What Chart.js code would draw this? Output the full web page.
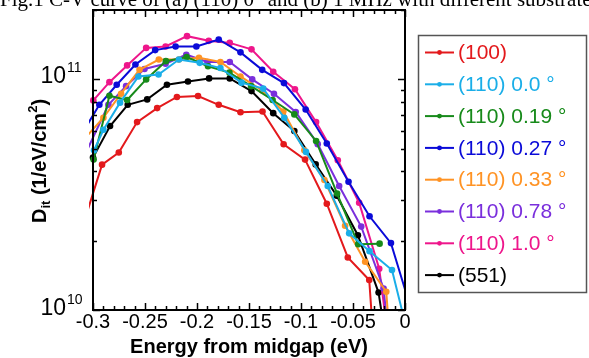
<!DOCTYPE html>
<html>
<head>
<meta charset="utf-8">
<script src="https://cdn.jsdelivr.net/npm/chart.js@4"></script>
<style>
  body { margin: 0; background: #fff; }
  canvas { display: block; }
</style>
</head>
<body>
<canvas id="ditChart" width="589" height="358"></canvas>
<script>
// axis ticks
const xTicks = [-0.3, -0.25, -0.2, -0.15, -0.1, -0.05, 0];
const xTickLabels = ['-0.3', '-0.25', '-0.2', '-0.15', '-0.1', '-0.05', '0'];
const yTicks = [1e10, 1e11];
const yTickExps = ['10', '11'];

// series: [energy (eV), Dit (1/eV/cm2)]
const s100 = [[-0.31, 2.30e10], [-0.2913, 4.27e10], [-0.2752, 4.82e10], [-0.2576, 6.53e10], [-0.2383, 7.51e10],
  [-0.2193, 8.39e10], [-0.199, 8.47e10], [-0.1791, 7.76e10], [-0.1582, 7.20e10], [-0.137, 7.26e10],
  [-0.1167, 5.23e10], [-0.0961, 4.49e10], [-0.0752, 2.89e10], [-0.055, 1.69e10], [-0.0344, 1.35e10], [-0.030, 7.0e9]];
const s110a0 = [[-0.299, 4.93e10], [-0.29, 6.05e10], [-0.274, 7.93e10], [-0.2563, 1.03e11], [-0.237, 1.05e11],
  [-0.2174, 1.22e11], [-0.1974, 1.18e11], [-0.1775, 1.12e11], [-0.1572, 9.68e10], [-0.1363, 9.12e10],
  [-0.1161, 6.82e10], [-0.0952, 4.85e10], [-0.0743, 3.45e10], [-0.0537, 2.15e10], [-0.0341, 1.80e10],
  [-0.0125, 1.49e10], [-0.002, 9.6e9]];
const s110a19 = [[-0.2994, 4.49e10], [-0.2842, 8.50e10], [-0.2672, 8.14e10], [-0.2489, 1.00e11], [-0.2299, 1.20e11],
  [-0.21, 1.25e11], [-0.1894, 1.14e11], [-0.1688, 1.07e11], [-0.1479, 9.35e10], [-0.1273, 8.14e10],
  [-0.1064, 7.05e10], [-0.0855, 5.41e10], [-0.0653, 3.20e10], [-0.045, 1.93e10], [-0.0244, 1.94e10]];
const s110a27 = [[-0.31, 5.88e10], [-0.2939, 7.76e10], [-0.2772, 9.48e10], [-0.2592, 1.16e11], [-0.2402, 1.34e11],
  [-0.2206, 1.39e11], [-0.2006, 1.39e11], [-0.1791, 1.49e11], [-0.1582, 1.31e11], [-0.1373, 1.10e11],
  [-0.1164, 9.64e10], [-0.0955, 7.40e10], [-0.0752, 5.27e10], [-0.0543, 3.60e10], [-0.0341, 2.55e10],
  [-0.0135, 1.95e10], [0.006, 1.0e10]];
const s110a33 = [[-0.31, 5.41e10], [-0.29, 6.82e10], [-0.273, 8.67e10], [-0.2553, 1.10e11], [-0.2367, 1.22e11],
  [-0.2174, 1.22e11], [-0.1981, 1.24e11], [-0.1775, 1.19e11], [-0.1582, 1.03e11], [-0.1373, 8.96e10],
  [-0.117, 7.26e10], [-0.0968, 4.93e10], [-0.0775, 3.66e10], [-0.0576, 2.32e10], [-0.0383, 1.62e10],
  [-0.018, 1.20e10], [-0.015, 7.8e9]];
const s110a78 = [[-0.31, 4.48e10], [-0.2852, 7.76e10], [-0.2682, 9.35e10], [-0.2505, 1.11e11], [-0.2302, 1.17e11],
  [-0.2103, 1.28e11], [-0.19, 1.19e11], [-0.1685, 1.19e11], [-0.1469, 1.00e11], [-0.126, 8.67e10],
  [-0.1051, 7.22e10], [-0.0839, 5.24e10], [-0.0633, 3.45e10], [-0.0421, 2.30e10], [-0.0206, 1.24e10],
  [-0.017, 8.6e9]];
const s110a100 = [[-0.2997, 8.11e10], [-0.2842, 9.73e10], [-0.2672, 1.15e11], [-0.2489, 1.37e11], [-0.2302, 1.39e11],
  [-0.2096, 1.54e11], [-0.1887, 1.47e11], [-0.1685, 1.44e11], [-0.1476, 1.35e11], [-0.1267, 1.08e11],
  [-0.1058, 9.06e10], [-0.0855, 6.53e10], [-0.0646, 4.46e10], [-0.0441, 2.92e10], [-0.0248, 1.51e10],
  [-0.019, 9.5e9]];
const s551 = [[-0.3, 4.58e10], [-0.2836, 6.28e10], [-0.2666, 7.76e10], [-0.2479, 8.19e10], [-0.2289, 9.48e10],
  [-0.2087, 9.80e10], [-0.1884, 1.01e11], [-0.1685, 1.01e11], [-0.1476, 8.90e10], [-0.1267, 7.14e10],
  [-0.1064, 5.97e10], [-0.0859, 4.28e10], [-0.0656, 3.13e10], [-0.0453, 2.11e10], [-0.0254, 1.19e10],
  [-0.02, 8.2e9]];

const seriesNames = ['(100)', '(110) 0.0 °', '(110) 0.19 °', '(110) 0.27 °', '(110) 0.33 °', '(110) 0.78 °', '(110) 1.0 °', '(551)'];
const seriesData = [s100, s110a0, s110a19, s110a27, s110a33, s110a78, s110a100, s551];
const seriesColors = ['#e3191c', '#1aaee8', '#178a1a', '#0a0ad8', '#ff9324', '#7a2fdc', '#ee168b', '#000000'];

const SANS = '"Liberation Sans", Arial, sans-serif';

const datasets = seriesData.map((d, i) => ({
  label: seriesNames[i],
  data: d.map(p => ({ x: p[0], y: p[1] })),
  borderColor: seriesColors[i],
  backgroundColor: seriesColors[i],
  borderWidth: 2,
  pointRadius: 3.3,
  pointBorderWidth: 0,
  tension: 0,
  clip: { left: 4, top: 0, right: 0, bottom: 0 }
}));

const decor = {
  id: 'decor',
  beforeDraw(chart) {
    const ctx = chart.ctx;
    ctx.save();
    ctx.fillStyle = '#fff';
    ctx.fillRect(0, 0, chart.width, chart.height);
    ctx.restore();
  },
  afterDraw(chart) {
    const ctx = chart.ctx;
    const a = chart.chartArea;
    const xs = chart.scales.x;
    const ys = chart.scales.y;
    ctx.save();

    // caption cut at the top
    ctx.fillStyle = '#000';
    ctx.font = '21px "Liberation Serif", "Times New Roman", serif';
    ctx.textAlign = 'left';
    ctx.textBaseline = 'alphabetic';
    ctx.fillText('Fig.1 C-V curve of (a) (110) 0° and (b) 1 MHz with different substrates', 0, 6);

    // frame
    ctx.strokeStyle = '#000';
    ctx.lineWidth = 2;
    ctx.strokeRect(a.left, a.top, a.right - a.left, a.bottom - a.top);

    // x ticks (inward, top and bottom)
    ctx.lineWidth = 1.5;
    for (let k = 0; k <= 30; k++) {
      const px = Math.round(xs.getPixelForValue(-0.3 + k * 0.01)) + 0.5;
      const len = k % 5 === 0 ? 7 : 4;
      ctx.beginPath();
      ctx.moveTo(px, a.bottom); ctx.lineTo(px, a.bottom - len);
      ctx.moveTo(px, a.top); ctx.lineTo(px, a.top + len);
      ctx.stroke();
    }
    // y ticks
    const yMinor = [];
    yTicks.forEach(t => { for (let m = 2; m <= 9; m++) yMinor.push(t * m); });
    yMinor.concat(yTicks).forEach(v => {
      if (v > ys.max) return;
      const py = Math.round(ys.getPixelForValue(v)) + 0.5;
      const len = yTicks.includes(v) ? 7 : 4;
      ctx.beginPath();
      ctx.moveTo(a.left, py); ctx.lineTo(a.left + len, py);
      ctx.moveTo(a.right, py); ctx.lineTo(a.right - len, py);
      ctx.stroke();
    });

    // x tick labels
    ctx.fillStyle = '#000';
    ctx.font = '20px ' + SANS;
    ctx.textAlign = 'center';
    xTicks.forEach((t, i) => {
      ctx.fillText(xTickLabels[i], xs.getPixelForValue(t), 328);
    });

    // y tick labels 10^n
    yTicks.forEach((t, i) => {
      const py = ys.getPixelForValue(t);
      const base = i === 0 ? py + 5 : py + 4;
      ctx.font = '23px ' + SANS;
      ctx.textAlign = 'right';
      ctx.fillText('10', 66, base);
      ctx.font = '14px ' + SANS;
      ctx.textAlign = 'left';
      ctx.fillText(yTickExps[i], 67, base - 11);
    });

    // x title
    ctx.font = 'bold 20px ' + SANS;
    ctx.textAlign = 'center';
    ctx.fillText('Energy from midgap (eV)', (a.left + a.right) / 2, 353);

    // y title: D_it (1/eV/cm^2)
    ctx.save();
    ctx.translate(46, (a.top + a.bottom) / 2 + 1);
    ctx.rotate(-Math.PI / 2);
    ctx.textAlign = 'left';
    const parts = [
      { t: 'D', f: 'bold 20px ', dy: 0 },
      { t: 'it', f: 'bold 13px ', dy: 4 },
      { t: ' (1/eV/cm', f: 'bold 20px ', dy: 0 },
      { t: '2', f: 'bold 13px ', dy: -9 },
      { t: ')', f: 'bold 20px ', dy: 0 }
    ];
    let total = 0;
    parts.forEach(p => { ctx.font = p.f + SANS; p.w = ctx.measureText(p.t).width; total += p.w; });
    let cx = -total / 2;
    parts.forEach(p => { ctx.font = p.f + SANS; ctx.fillText(p.t, cx, p.dy); cx += p.w; });
    ctx.restore();

    // legend
    ctx.strokeStyle = '#555';
    ctx.lineWidth = 1.5;
    ctx.strokeRect(418.5, 35.5, 168, 257);
    ctx.font = '21px ' + SANS;
    ctx.textAlign = 'left';
    ctx.textBaseline = 'middle';
    seriesNames.forEach((name, i) => {
      const ly = 52.5 + i * 31.8;
      ctx.strokeStyle = seriesColors[i];
      ctx.fillStyle = seriesColors[i];
      ctx.lineWidth = 2;
      ctx.beginPath();
      ctx.moveTo(425, ly); ctx.lineTo(454, ly);
      ctx.stroke();
      ctx.beginPath();
      ctx.arc(439.5, ly, 2.4, 0, Math.PI * 2);
      ctx.fill();
      ctx.fillText(name, 458, ly + 1);
    });

    ctx.restore();
  }
};

new Chart(document.getElementById('ditChart'), {
  type: 'line',
  data: { datasets: datasets },
  options: {
    responsive: false,
    animation: false,
    devicePixelRatio: 1,
    layout: { padding: { left: 93, right: 184, top: 10, bottom: 48 } },
    plugins: { legend: { display: false }, tooltip: { enabled: false } },
    scales: {
      x: { type: 'linear', min: -0.3, max: 0, display: false },
      y: { type: 'logarithmic', min: 1e10, max: 2e11, display: false }
    }
  },
  plugins: [decor]
});
</script>
</body>
</html>
